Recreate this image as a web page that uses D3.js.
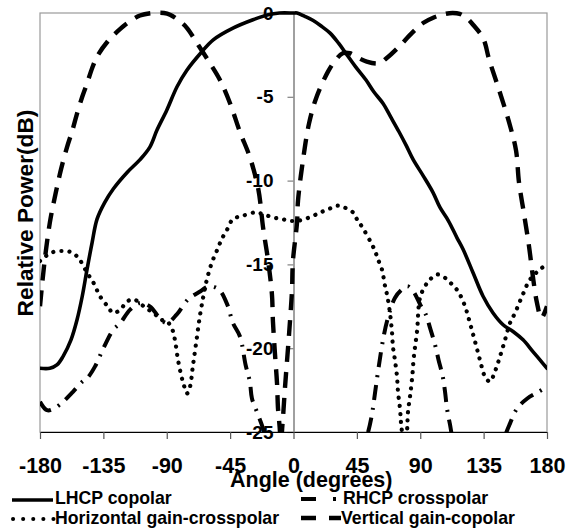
<!DOCTYPE html>
<html><head><meta charset="utf-8">
<script src="https://cdn.jsdelivr.net/npm/d3@7"></script>
<style>
body{margin:0;background:#fff}
text{font-family:Arial,"Liberation Sans",sans-serif;font-weight:bold;fill:#000}
</style>
</head><body>
<svg id="chart" width="566" height="529"></svg>
<script>
// ---------- data ----------
const xTicks = [-180,-135,-90,-45,0,45,90,135,180];
const yTicks = [0,-5,-10,-15,-20,-25];

const lhcpAngles = [-180,-173,-168,-163.7,-158,-153.7,-150,-146.6,-143,-139.5,-134,-128,-118,-109,-102,-97,-90,-82.7,-75.6,-66,-57,-43,-28.8,-18,-10,0,2.5,8,14,20,26,32,38,44,51.5,57,63.6,69,75,80,85,92,99,104,110,116,120.4,127.5,134.6,141.7,148.8,155.9,163,170,175,180];
const lhcpValues = [-21.2,-21.2,-21.0,-20.5,-19.5,-18.3,-16.9,-15.3,-13.7,-12.3,-11.3,-10.5,-9.5,-8.75,-8.0,-7.0,-5.8,-4.4,-3.4,-2.4,-1.6,-0.9,-0.4,-0.1,0,0,0,-0.2,-0.45,-0.8,-1.2,-1.8,-2.5,-3.2,-4.0,-4.7,-5.4,-6.2,-7.1,-7.9,-8.75,-9.7,-10.7,-11.6,-12.4,-13.4,-14.1,-15.5,-16.9,-17.9,-18.6,-19.0,-19.5,-20.2,-20.7,-21.2];

const rhcpAngles = [-180,-175,-170,-163.7,-156.6,-150,-146.6,-141,-135,-128,-123,-116,-109,-102,-95,-90,-83,-75,-66,-60,-53,-47,-43,-38,-34,-31,-29.5,-26,-21.6,-15,0,20,40,50,53,55.8,58,60.7,64,67,72,77,81,85,90,94,97,100.5,103,106,107.6,109,111,115,130,145,150,153.7,158.7,166,174,180];
const rhcpValues = [-23.2,-23.7,-23.6,-23.2,-22.6,-22.0,-21.8,-21.1,-20.0,-18.9,-18.5,-17.7,-17.3,-17.5,-18.2,-18.5,-18.0,-17.1,-16.6,-16.3,-16.5,-17.4,-18.5,-19.3,-21.0,-22.0,-23.0,-23.8,-24.8,-27,-30,-30,-28,-25.8,-25,-23.9,-22.6,-21.0,-19.3,-18.2,-17.0,-16.5,-16.3,-16.6,-17.4,-18.0,-18.8,-19.8,-20.7,-21.7,-22.6,-23.6,-24.5,-26,-28,-27,-25.3,-24.5,-23.6,-23.0,-22.6,-22.3];

const horizAngles = [-180,-172,-163.6,-157,-152,-146.6,-142,-137.4,-132,-128,-123,-118,-113,-108,-103,-98,-94,-89.8,-86,-84,-82,-79.5,-77.5,-75.6,-73.5,-71.5,-69,-66.5,-64,-61.5,-58,-54,-51,-47,-43,-36,-27.3,-21.6,-14.6,-8,-2.5,2.5,8,14,19,25,30.6,36,42.3,45,49,55,57.9,60,62.8,65,66.4,68.5,69.9,70.6,72,73.5,74.2,75.6,76.3,77,78.8,80.6,81.3,82.7,84.2,85.6,87.7,89.8,93.4,96.9,101.9,107.6,112.6,116.8,121.8,125.3,128.9,132.4,136,139.5,143,146.6,150.2,153.7,157.3,162.3,168,176.5,180];
const horizValues = [-14.8,-14.3,-14.2,-14.3,-14.7,-15.5,-16.1,-16.9,-17.5,-17.9,-17.7,-17.2,-17.1,-17.4,-17.7,-18.0,-18.3,-18.4,-18.9,-19.6,-20.7,-21.7,-22.3,-22.7,-22.3,-21.1,-19.6,-18.1,-16.9,-15.9,-14.9,-14.1,-13.5,-12.9,-12.3,-12.1,-11.9,-12.0,-12.2,-12.3,-12.4,-12.4,-12.3,-12.1,-11.9,-11.7,-11.5,-11.6,-11.9,-12.3,-12.8,-13.7,-14.2,-14.7,-15.3,-16.3,-16.8,-17.9,-19.0,-19.9,-20.7,-21.7,-22.6,-23.6,-24.4,-25,-27,-25,-23.8,-22.9,-21.8,-20.4,-19.0,-17.0,-16.3,-15.9,-15.6,-15.8,-16.2,-16.6,-17.5,-18.5,-19.6,-20.7,-21.7,-22.0,-21.4,-20.5,-19.5,-18.5,-17.9,-16.9,-15.9,-15.2,-15.0];

const vertAngles = [-180,-177,-173,-169,-165,-160.8,-157,-153.7,-150,-146.6,-143,-139.5,-132,-125,-118,-109,-100,-92,-87.7,-80.6,-75.6,-68.5,-59.3,-52.2,-45,-38,-31,-25,-21.6,-18,-15.3,-14.6,-13.1,-11.7,-11,-9.6,-8.9,-8.2,-7.5,-6,-3.9,-2.5,-1.1,-0.4,2.5,3.2,6.7,11,16,24.5,30,35,40,44.4,52,60.7,66,75,84,92,100,108,113,118,123,127.5,134.6,139,146,153,158,160.1,163.7,167.2,170.1,172.9,176,180];
const vertValues = [-17.5,-15,-12.5,-10.8,-9.3,-8.0,-7.0,-6.0,-5.0,-4.2,-3.3,-2.6,-1.7,-1.1,-0.6,-0.15,0,0,-0.1,-0.5,-0.9,-1.8,-3.0,-4.0,-5.4,-7.1,-8.6,-10.5,-12.8,-14.8,-16.8,-18.4,-20.4,-22.1,-23.6,-25,-28,-25,-24.2,-22.3,-20.0,-18.4,-16.6,-14.8,-12.5,-11.2,-8.8,-6.6,-5.1,-3.5,-2.8,-2.4,-2.4,-2.6,-2.9,-3.0,-2.7,-2.0,-1.2,-0.6,-0.25,-0.05,0,-0.05,-0.3,-0.7,-1.5,-2.8,-4.6,-6.5,-8.2,-10.1,-12.0,-13.9,-15.8,-17.3,-18.2,-17.5];

const seriesNames = ["LHCP copolar","RHCP crosspolar","Horizontal gain-crosspolar","Vertical gain-copolar"];

// ---------- chart ----------
const svg = d3.select("#chart");
const L = 40, R = 547, T = 13, B = 432;
const x = d3.scaleLinear().domain([-180,180]).range([L,R]);
const y = d3.scaleLinear().domain([-25,0]).range([B,T]);
const fmt = d => String(d);

// frame
svg.append("rect").attr("x",L).attr("y",T).attr("width",R-L).attr("height",B-T)
  .attr("fill","none").attr("stroke","#9a9a9a").attr("stroke-width",1.2);

// center y axis
const yAxis = svg.append("g").attr("transform",`translate(${x(0)},0)`)
  .call(d3.axisLeft(y).tickValues(yTicks).tickSize(6).tickSizeOuter(0).tickPadding(14).tickFormat(fmt));
yAxis.select(".domain").attr("stroke","#808080").attr("stroke-width",1.5);
yAxis.selectAll(".tick line").attr("stroke","#808080").attr("stroke-width",1.2);
yAxis.selectAll("text").style("font-size","19px").attr("fill","#000");

// bottom x axis
const xAxis = svg.append("g").attr("transform",`translate(0,${B})`)
  .call(d3.axisBottom(x).tickValues(xTicks).tickSize(7).tickSizeOuter(0).tickPadding(18.5).tickFormat(fmt));
xAxis.select(".domain").attr("stroke","#000").attr("stroke-width",1.2);
xAxis.selectAll(".tick line").attr("stroke","#555").attr("stroke-width",1.2);
xAxis.selectAll("text").style("font-size","21.5px").attr("fill","#000");

// clip
svg.append("clipPath").attr("id","plotclip").append("rect")
  .attr("x",L).attr("y",T-3).attr("width",R-L).attr("height",B-T+3);

const line = d3.line().x(d=>x(d[0])).y(d=>y(d[1])).curve(d3.curveCatmullRom.alpha(0.5));
const zip = (a,v)=>a.map((d,i)=>[d,v[i]]);

const styles = [
  {data: zip(lhcpAngles,lhcpValues), dash:null, w:3.6, cap:"round"},
  {data: zip(rhcpAngles,rhcpValues), dash:"15,8,2,8", w:4, cap:"butt"},
  {data: zip(horizAngles,horizValues), dash:"0.1,8", w:4.2, cap:"round"},
  {data: zip(vertAngles,vertValues), dash:"16,10", w:4.4, cap:"butt"}
];
const plot = svg.append("g").attr("clip-path","url(#plotclip)");
styles.forEach(s=>{
  plot.append("path").datum(s.data).attr("d",line)
    .attr("fill","none").attr("stroke","#000").attr("stroke-width",s.w)
    .attr("stroke-linecap",s.cap).attr("stroke-linejoin","round")
    .attr("stroke-dasharray",s.dash);
});

// axis titles
svg.append("text").attr("x",230).attr("y",487).style("font-size","21.5px").text("Angle (degrees)");
svg.append("text").attr("transform","translate(33,213) rotate(-90)").attr("text-anchor","middle")
  .style("font-size","22.7px").text("Relative Power(dB)");

// legend
const lg = svg.append("g");
lg.append("line").attr("x1",12).attr("x2",53).attr("y1",500).attr("y2",500).attr("stroke","#000").attr("stroke-width",3.6);
lg.append("text").attr("x",55).attr("y",504).style("font-size","17.7px").text(seriesNames[0]);
lg.append("line").attr("x1",301).attr("x2",336).attr("y1",499).attr("y2",499).attr("stroke","#000").attr("stroke-width",4)
  .attr("stroke-dasharray","15,17,3");
lg.append("text").attr("x",343).attr("y",504).style("font-size","17.7px").text(seriesNames[1]);
lg.append("line").attr("x1",13).attr("x2",54).attr("y1",519).attr("y2",519).attr("stroke","#000").attr("stroke-width",4)
  .attr("stroke-linecap","round").attr("stroke-dasharray","0.1,10");
lg.append("text").attr("x",55).attr("y",524).style("font-size","17.7px").text(seriesNames[2]);
lg.append("line").attr("x1",301).attr("x2",341).attr("y1",518).attr("y2",518).attr("stroke","#000").attr("stroke-width",4.4)
  .attr("stroke-dasharray","15,13,12");
lg.append("text").attr("x",341).attr("y",524).style("font-size","17.7px").text(seriesNames[3]);
</script>
</body></html>
